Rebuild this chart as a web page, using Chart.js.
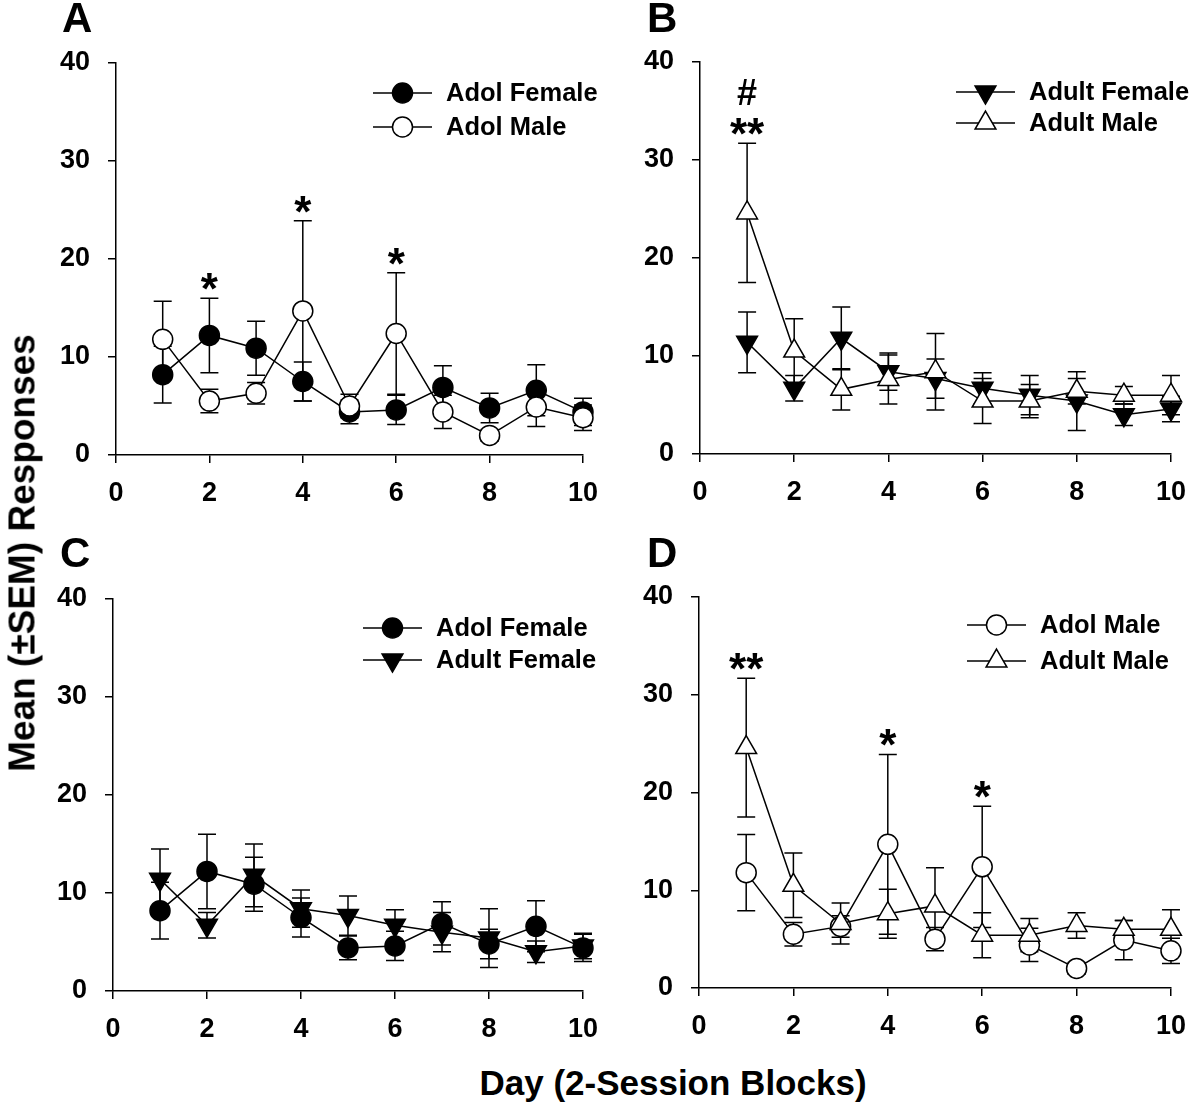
<!DOCTYPE html>
<html>
<head>
<meta charset="utf-8">
<script src="https://cdn.jsdelivr.net/npm/chart.js@4.4.1/dist/chart.umd.min.js"></script>
<style>
  body { margin: 0; background: #fff; width: 1200px; height: 1108px; position: relative; overflow: hidden;
         font-family: "Liberation Sans", Arial, sans-serif; }
  canvas { position: absolute; }
  .lbl { position: absolute; font-weight: bold; line-height: 1; white-space: nowrap; color: #000; }
</style>
</head>
<body>
<canvas id="cA"></canvas>
<canvas id="cB"></canvas>
<canvas id="cC"></canvas>
<canvas id="cD"></canvas>

<div class="lbl" id="pA" style="font-size:42px;">A</div>
<div class="lbl" id="pB" style="font-size:42px;">B</div>
<div class="lbl" id="pC" style="font-size:42px;">C</div>
<div class="lbl" id="pD" style="font-size:42px;">D</div>
<div class="lbl" id="yTitle" style="font-size:37px;">Mean (±SEM) Responses</div>
<div class="lbl" id="xTitle" style="font-size:35px;">Day (2-Session Blocks)</div>

<script>
// ---- data ----
const days = [1, 2, 3, 4, 5, 6, 7, 8, 9, 10];
const xTicks = [0, 2, 4, 6, 8, 10];
const yTicks = [0, 10, 20, 30, 40];

const adolFemale    = [8.2, 12.2, 10.9, 7.5, 4.4, 4.6, 6.9, 4.8, 6.6, 4.4];
const adolFemaleSem = [2.9, 3.8, 2.75, 2.0, 1.2, 1.5, 2.2, 1.5, 2.6, 1.4];

const adolMale    = [11.8, 5.5, 6.3, 14.7, 5.0, 12.4, 4.4, 2.0, 4.9, 3.8];
const adolMaleSem = [3.9, 1.2, 1.1, 9.2, 1.2, 6.2, 1.7, 0.6, 2.0, 1.3];

const adultFemale    = [11.4, 6.7, 11.8, 8.4, 7.7, 6.7, 6.0, 5.4, 4.0, 4.6];
const adultFemaleSem = [3.1, 1.3, 3.2, 1.9, 2.0, 1.6, 2.0, 3.0, 1.1, 1.3];

const adultMale    = [24.6, 10.5, 6.6, 7.6, 8.4, 5.4, 5.4, 6.4, 6.0, 6.0];
const adultMaleSem = [7.1, 3.3, 2.1, 2.5, 3.9, 2.3, 1.7, 1.3, 0.9, 2.0];

// significance marks: day + stacked text lines (bottom line last)
const notesA = [{ day: 2, lines: ['*'] }, { day: 4, lines: ['*'] }, { day: 6, lines: ['*'] }];
const notesB = [{ day: 1, lines: ['#', '**'] }];
const notesC = [];
const notesD = [{ day: 1, lines: ['**'] }, { day: 4, lines: ['*'] }, { day: 6, lines: ['*'] }];

// ---- series definitions ----
const FONT = '"Liberation Sans", Arial, sans-serif';
const series = {
  adolFemale:  { label: 'Adol Female',  values: adolFemale,  sem: adolFemaleSem,  pointStyle: 'circle',   rotation: 0,   radius: 10, fill: '#000' },
  adolMale:    { label: 'Adol Male',    values: adolMale,    sem: adolMaleSem,    pointStyle: 'circle',   rotation: 0,   radius: 10, fill: '#fff' },
  adultFemale: { label: 'Adult Female', values: adultFemale, sem: adultFemaleSem, pointStyle: 'triangle', rotation: 180, radius: 12, fill: '#000' },
  adultMale:   { label: 'Adult Male',   values: adultMale,   sem: adultMaleSem,   pointStyle: 'triangle', rotation: 0,   radius: 12, fill: '#fff' }
};

function makeDataset(key, order) {
  const s = series[key];
  return {
    label: s.label,
    data: days.map((d, i) => ({ x: d, y: s.values[i] })),
    sem: s.sem,
    order: order,
    clip: false,
    borderColor: '#000',
    borderWidth: 1.5,
    backgroundColor: s.fill,
    pointStyle: s.pointStyle,
    rotation: s.rotation,
    pointRadius: s.radius,
    pointBackgroundColor: s.fill,
    pointBorderColor: '#000',
    pointBorderWidth: 1.5,
    tension: 0,
    fill: false
  };
}

// error bars, drawn under the lines and markers
const errorBars = {
  id: 'errorBars',
  beforeDatasetsDraw(chart) {
    const ctx = chart.ctx, yS = chart.scales.y;
    ctx.save();
    ctx.strokeStyle = '#000';
    ctx.lineWidth = 1.5;
    chart.data.datasets.forEach((ds, i) => {
      const meta = chart.getDatasetMeta(i);
      meta.data.forEach((pt, j) => {
        const v = ds.data[j].y, s = ds.sem[j];
        const top = yS.getPixelForValue(v + s), bot = yS.getPixelForValue(v - s);
        ctx.beginPath();
        ctx.moveTo(pt.x, top); ctx.lineTo(pt.x, bot);
        ctx.moveTo(pt.x - 9, top); ctx.lineTo(pt.x + 9, top);
        ctx.moveTo(pt.x - 9, bot); ctx.lineTo(pt.x + 9, bot);
        ctx.stroke();
      });
    });
    ctx.restore();
  }
};

// asterisks / hash above the highest error bar of a day
const sigMarks = {
  id: 'sigMarks',
  afterDatasetsDraw(chart, args, opts) {
    const ctx = chart.ctx, xS = chart.scales.x, yS = chart.scales.y;
    ctx.save();
    ctx.fillStyle = '#000';
    ctx.font = 'bold 44px ' + FONT;
    ctx.textAlign = 'center';
    ctx.textBaseline = 'alphabetic';
    (opts.notes || []).forEach(n => {
      const idx = days.indexOf(n.day);
      let hi = 0;
      chart.data.datasets.forEach(ds => { hi = Math.max(hi, ds.data[idx].y + ds.sem[idx]); });
      let base = yS.getPixelForValue(hi) + 6;
      const x = xS.getPixelForValue(n.day);
      for (let k = n.lines.length - 1; k >= 0; k--) {
        if (n.lines[k] === '#') {
          ctx.font = 'bold 36px ' + FONT;
          ctx.fillText(n.lines[k], x, base);
          ctx.font = 'bold 44px ' + FONT;
        } else {
          ctx.fillText(n.lines[k], x, base);
        }
        base -= 44;
      }
    });
    ctx.restore();
  }
};

// legend: line segment with marker in the middle, label to the right
function drawMarker(ctx, ds, x, y) {
  ctx.fillStyle = ds.pointBackgroundColor;
  ctx.strokeStyle = '#000';
  ctx.lineWidth = ds.pointBorderWidth;
  if (Chart.helpers && Chart.helpers.drawPoint) {
    Chart.helpers.drawPoint(ctx, { pointStyle: ds.pointStyle, rotation: ds.rotation, radius: ds.pointRadius, borderWidth: ds.pointBorderWidth }, x, y);
    return;
  }
  ctx.beginPath();
  if (ds.pointStyle === 'circle') {
    ctx.arc(x, y, ds.pointRadius, 0, Math.PI * 2);
  } else {
    const r = ds.pointRadius;
    let a = ds.rotation * Math.PI / 180;
    for (let k = 0; k < 3; k++) {
      const px = x + Math.sin(a) * r, py = y - Math.cos(a) * r;
      k === 0 ? ctx.moveTo(px, py) : ctx.lineTo(px, py);
      a += Math.PI * 2 / 3;
    }
    ctx.closePath();
  }
  ctx.fill(); ctx.stroke();
}

const panelLegend = {
  id: 'panelLegend',
  afterDraw(chart, args, opts) {
    const ctx = chart.ctx;
    ctx.save();
    chart.data.datasets.forEach((ds, i) => {
      const y = opts.y + i * opts.gap;
      ctx.strokeStyle = '#000';
      ctx.lineWidth = 1.5;
      ctx.beginPath();
      ctx.moveTo(opts.x, y); ctx.lineTo(opts.x + 59, y);
      ctx.stroke();
      drawMarker(ctx, ds, opts.x + 29.5, y);
      ctx.fillStyle = '#000';
      ctx.font = 'bold 25.5px ' + FONT;
      ctx.textAlign = 'left';
      ctx.textBaseline = 'middle';
      ctx.fillText(ds.label, opts.x + 73, y + 1);
    });
    ctx.restore();
  }
};

function axisOpts(ticks, fitFn, pad) {
  return {
    type: 'linear',
    min: ticks[0],
    max: ticks[ticks.length - 1],
    afterBuildTicks: s => { s.ticks = ticks.map(v => ({ value: v })); },
    afterFit: fitFn,
    grid: { display: true, drawOnChartArea: false, drawTicks: true, tickLength: 8, color: '#000', lineWidth: 1.5 },
    border: { display: true, color: '#000', width: 1.5 },
    ticks: { color: '#000', padding: pad, font: { family: FONT, size: 27, weight: 'bold' }, maxRotation: 0, autoSkip: false }
  };
}

const panels = [
  { id: 'cA', left: 0,   top: 0,   w: 612, h: 525, padTop: 63, padRight: 16, yW: 116, keys: ['adolFemale', 'adolMale'],    legend: { x: 373, y: 93, gap: 34 }, notes: notesA },
  { id: 'cB', left: 612, top: 0,   w: 588, h: 524, padTop: 62, padRight: 21, yW: 88,  keys: ['adultFemale', 'adultMale'], legend: { x: 344, y: 92, gap: 31 }, notes: notesB },
  { id: 'cC', left: 0,   top: 530, w: 612, h: 531, padTop: 69, padRight: 20, yW: 113, keys: ['adolFemale', 'adultFemale'], legend: { x: 363, y: 98, gap: 32 }, notes: notesC },
  { id: 'cD', left: 612, top: 530, w: 588, h: 528, padTop: 67, padRight: 22, yW: 87,  keys: ['adolMale', 'adultMale'],    legend: { x: 355, y: 95, gap: 36 }, notes: notesD }
];

panels.forEach(p => {
  const cv = document.getElementById(p.id);
  cv.width = p.w; cv.height = p.h;
  cv.style.left = p.left + 'px'; cv.style.top = p.top + 'px';
  cv.style.width = p.w + 'px'; cv.style.height = p.h + 'px';
  new Chart(cv, {
    type: 'line',
    data: { datasets: [makeDataset(p.keys[0], 1), makeDataset(p.keys[1], 0)] },
    options: {
      responsive: false,
      animation: false,
      devicePixelRatio: 1,
      layout: { padding: { top: p.padTop, right: p.padRight, bottom: 0, left: 0 } },
      scales: {
        x: axisOpts(xTicks, s => { s.height = 70; }, 14),
        y: axisOpts(yTicks, s => { s.width = p.yW; }, 18)
      },
      plugins: {
        legend: { display: false },
        tooltip: { enabled: false },
        panelLegend: p.legend,
        sigMarks: { notes: p.notes }
      }
    },
    plugins: [errorBars, sigMarks, panelLegend]
  });
});

// panel letters and axis titles (placed by baseline)
function placeByBaseline(id, left, baseline, size) {
  const el = document.getElementById(id);
  el.style.left = left + 'px';
  el.style.top = (baseline - 0.8465 * size) + 'px';
}
placeByBaseline('pA', 62, 33, 42);
placeByBaseline('pB', 647, 33, 42);
placeByBaseline('pC', 60, 568, 42);
placeByBaseline('pD', 647, 568, 42);

const xt = document.getElementById('xTitle');
xt.style.left = '673px';
xt.style.top = (1095 - 0.8465 * 35) + 'px';
xt.style.transform = 'translateX(-50%)';

const yt = document.getElementById('yTitle');
yt.style.left = '22px';
yt.style.top = '553px';
yt.style.transform = 'translate(-50%, -50%) rotate(-90deg)';
</script>
</body>
</html>
